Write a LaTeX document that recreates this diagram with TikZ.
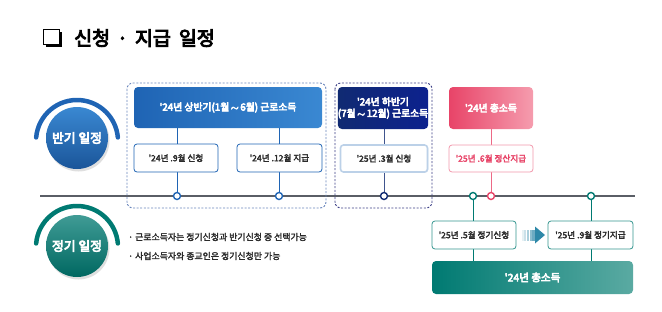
\documentclass[tikz,border=0pt]{standalone}
\usepackage{fontspec}
\setmainfont{Noto Sans CJK KR}
\newfontfamily\krb{Noto Sans CJK KR}
\newfontfamily\krm{Noto Sans CJK KR}
\usetikzlibrary{shadows,backgrounds,calc}
\definecolor{tline}{HTML}{5A5E66}
\definecolor{bl}{HTML}{1F64B4}
\definecolor{bllt}{HTML}{3A88D2}
\definecolor{bldash}{HTML}{6A86BC}
\definecolor{nv}{HTML}{102A72}
\definecolor{nvdash}{HTML}{3C3F86}
\definecolor{pk}{HTML}{E84468}
\definecolor{pklt}{HTML}{F59CAE}
\definecolor{tl}{HTML}{007A72}
\definecolor{tllt}{HTML}{5AAAA2}
\definecolor{arw}{HTML}{2E88A8}
\definecolor{txt}{HTML}{2A2A2A}
\tikzset{
  x=1pt,y=-1pt,
  heavy/.style={execute at begin node={\special{pdf:literal direct 2 Tr #1 w}},
                execute at end node={\special{pdf:literal direct 0 Tr}}},
  hdr/.style={rounded corners=4pt,inner sep=0pt,text=white,heavy=0.55,font=\krb\fontsize{9.8}{11.5}\selectfont,align=center},
  sub/.style={draw,rounded corners=3pt,fill=white,inner sep=0pt,line width=0.8pt,text=txt,heavy=0.25,font=\krm\fontsize{8.6}{10}\selectfont},
  dot/.style={circle,draw,fill=white,line width=1.4pt,inner sep=0pt,minimum size=7pt},
  dbox/.style={dashed,line width=0.9pt,rounded corners=6pt,dash pattern=on 2pt off 1.6pt},
  ball/.style={circle,inner sep=0pt,minimum size=62pt,text=white,heavy=0.7,font=\krb\fontsize{12.8}{14}\selectfont,drop shadow={shadow xshift=1.5pt,shadow yshift=-2.5pt,opacity=0.25}},
  bullet/.style={anchor=west,inner sep=0pt,text=txt,heavy=0.2,font=\krm\fontsize{8.9}{11}\selectfont}
}
\begin{document}
\begin{tikzpicture}
\useasboundingbox (0,0) rectangle (662,311);
% title
\node[draw=black,fill=white,line width=1.1pt,minimum size=15.5pt,inner sep=0pt,
      drop shadow={shadow xshift=2.4pt,shadow yshift=-2.4pt,opacity=1,fill=black}] (chk) at (51.5,37) {};
\node[anchor=west,inner sep=0pt,heavy=0.9,font=\krb\fontsize{19.5}{21}\selectfont] (title) at (74,38) {신청\hspace{7pt}·\hspace{7pt}지급\hspace{8pt}일정};

% timeline
\coordinate (tlL) at (40,196);
\coordinate (tlR) at (635,196);
\draw[tline,line width=1.1pt] (tlL) -- (tlR);

% dashed groups
\draw[dbox,bldash] (127,83) rectangle (326,208);
\draw[dbox,nvdash] (335,83) rectangle (432,208);

% headers
\node[hdr,left color=bl,right color=bllt,minimum width=188pt,minimum height=41pt] (h1) at (228,107.5) {'24년 상반기(1월\,$\sim$\,6월) 근로소득};
\node[hdr,left color=nv,right color=nv!80!blue,minimum width=90pt,minimum height=42pt] (h2) at (383,108) {'24년 하반기\\(7월\,$\sim$\,12월) 근로소득};
\node[hdr,left color=pk,right color=pklt,minimum width=84pt,minimum height=42pt] (h3) at (491,108) {'24년 총소득};

% dots on timeline
\node[dot,draw=bl] (c1) at (177,196) {};
\node[dot,draw=bl] (c2) at (279,196) {};
\node[dot,draw=nv] (c3) at (384,196) {};
\node[dot,draw=pk] (c4) at (491,196) {};
\node[dot,draw=tl] (c5) at (473,196) {};
\node[dot,draw=tl] (c6) at (591,196) {};

% bottom big box
\node[hdr,left color=tl,right color=tllt,minimum width=201pt,minimum height=33pt,font=\krb\fontsize{10.5}{12}\selectfont] (big) at (532.5,277.5) {'24년 총소득};

% connectors
\begin{scope}[on background layer]
\draw[bl,line width=0.9pt] (c1) -- (c1 |- h1.south);
\draw[bl,line width=0.9pt] (c2) -- (c2 |- h1.south);
\draw[nv!80,line width=0.9pt] (c3) -- (c3 |- h2.south);
\draw[pk!80,line width=0.9pt] (c4) -- (c4 |- h3.south);
\draw[tl,line width=0.9pt] (c5) -- (c5 |- big.north);
\draw[tl,line width=0.9pt] (c6) -- (c6 |- big.north);
\end{scope}

% sub boxes
\node[sub,draw=bl,minimum width=84pt,minimum height=28pt] (s1) at (176,158) {'24년 .9월 신청};
\node[sub,draw=bl,minimum width=85pt,minimum height=28pt] (s2) at (279.5,158) {'24년 .12월 지급};
\node[sub,draw=bl!30,line width=1.6pt,minimum width=87pt,minimum height=27pt,
      drop shadow={shadow xshift=0.8pt,shadow yshift=-0.8pt,opacity=0.35,fill=bl!40}] (s3) at (384,158.5) {'25년 .3월 신청};
\node[sub,draw=pk!55,text=pk,minimum width=84pt,minimum height=27pt] (s4) at (491,158.5) {'25년 .6월 정산지급};
\node[sub,draw=tl!80,minimum width=84pt,minimum height=28pt] (t1) at (474,235) {'25년 .5월 정기신청};
\node[sub,draw=tl!80,minimum width=85pt,minimum height=28pt] (t2) at (590.5,235) {'25년 .9월 정기지급};

% fading arrow between t1 and t2
\coordinate (ar) at ($(t1.east)!0.5!(t2.west)$);
\foreach \i/\o in {0/0.12,1/0.25,2/0.4,3/0.55,4/0.7}{
  \fill[arw,opacity=\o] ($(ar)+(-10.5+\i*2.7,-5.5)$) rectangle ++(2.2,11);
}
\fill[arw] ($(ar)+(3,-8.5)$) -- ($(ar)+(13,0)$) -- ($(ar)+(3,8.5)$) -- cycle;

% left balls with arcs
\node[ball,top color=bllt,bottom color=bl!85!black] (b1) at (77,138) {반기 일정};
\draw[bl,line width=4.5pt,line cap=round] ([shift={(-175:41)}]77,141) arc[start angle=-175,end angle=-5,radius=41];
\node[ball,top color=tl!75!white,bottom color=tl!85!black] (b2) at (77,246) {정기 일정};
\draw[tl,line width=4.5pt,line cap=round] ([shift={(-175:41)}]77,247) arc[start angle=-175,end angle=-5,radius=41];

% bullets
\node[bullet] (n1) at (128,237) {· 근로소득자는 정기신청과 반기신청 중 선택가능};
\node[bullet] (n2) at (128,256) {· 사업소득자와 종교인은 정기신청만 가능};
\end{tikzpicture}
\end{document}
